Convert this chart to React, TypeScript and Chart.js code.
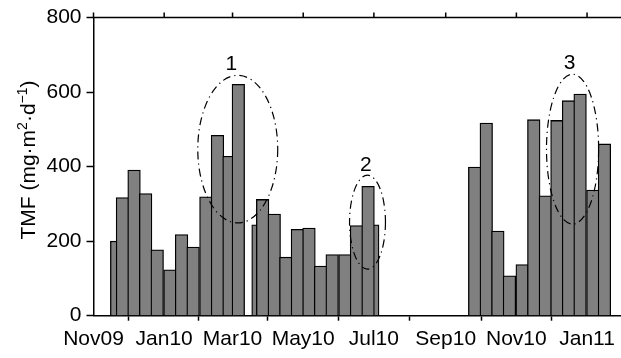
import React, { useEffect, useRef } from "react";
import { Chart, registerables } from "chart.js";

Chart.register(...registerables);

// ---- data ----
const mainDates = [
  "2009-11-26", "2009-12-06", "2009-12-16", "2009-12-26", "2010-01-06", "2010-01-16",
  "2010-01-26", "2010-02-06", "2010-02-16", "2010-02-26", "2010-03-06",
  "2010-03-27", "2010-04-06", "2010-04-16", "2010-04-26", "2010-05-06", "2010-05-16",
  "2010-05-26", "2010-06-06", "2010-06-16", "2010-06-26",
  "2010-09-26", "2010-10-06", "2010-10-16", "2010-10-26", "2010-11-06", "2010-11-16",
  "2010-11-26", "2010-12-06", "2010-12-16", "2010-12-26", "2011-01-06", "2011-01-16",
];
const mainValues = [
  317, 391, 328, 177, 123, 218, 184, 319, 484, 428, 621,
  312, 273, 157, 232, 235, 133, 164, 164, 242, 347,
  399, 517, 227, 107, 137, 526, 322, 524, 577, 595, 337, 461,
];
const backDates = ["2009-11-21", "2010-03-23", "2010-06-30"];
const backValues = [200, 244, 244];

const xTickDates = [
  "2009-11-01", "2010-01-01", "2010-03-01", "2010-05-01",
  "2010-07-01", "2010-09-01", "2010-11-01", "2011-01-01",
];
const xTickLabels = ["Nov09", "Jan10", "Mar10", "May10", "Jul10", "Sep10", "Nov10", "Jan11"];
const yTickValues = [0, 200, 400, 600, 800];

const ellipseNames = ["1", "2", "3"];
const ellipseFrom = ["2010-01-30", "2010-06-10", "2010-11-27"];
const ellipseTo = ["2010-04-09", "2010-07-11", "2011-01-11"];
const ellipseLow = [249, 125, 246];
const ellipseHigh = [645, 377, 648];
const ellipseLabelDates = ["2010-02-28", "2010-06-24", "2010-12-17"];
const ellipseLabelValues = [676, 403, 678];

const ORIGIN = Date.UTC(2009, 10, 1);
const dayOf = (s: string) => (Date.parse(s + "T00:00:00Z") - ORIGIN) / 86400000;

const FONT = "'Liberation Sans', Arial, sans-serif";

const annotationPlugin = {
  id: "annot",
  afterDatasetsDraw(chart: any) {
    const { ctx, scales } = chart;
    const x = scales.x;
    const y = scales.y;
    ctx.save();
    ctx.strokeStyle = "#000";
    ctx.lineWidth = 1.2;
    ctx.setLineDash([8, 4, 1.2, 4]);
    for (let i = 0; i < ellipseNames.length; i++) {
      const x0 = x.getPixelForValue(dayOf(ellipseFrom[i]));
      const x1 = x.getPixelForValue(dayOf(ellipseTo[i]));
      const y0 = y.getPixelForValue(ellipseHigh[i]);
      const y1 = y.getPixelForValue(ellipseLow[i]);
      ctx.beginPath();
      ctx.ellipse((x0 + x1) / 2, (y0 + y1) / 2, (x1 - x0) / 2, (y1 - y0) / 2, 0, 0, Math.PI * 2);
      ctx.stroke();
    }
    ctx.setLineDash([]);
    ctx.fillStyle = "#000";
    ctx.font = "21px " + FONT;
    ctx.textAlign = "center";
    ctx.textBaseline = "middle";
    for (let i = 0; i < ellipseNames.length; i++) {
      ctx.fillText(
        ellipseNames[i],
        x.getPixelForValue(dayOf(ellipseLabelDates[i])),
        y.getPixelForValue(ellipseLabelValues[i])
      );
    }
    ctx.restore();
  },
  afterDraw(chart: any) {
    const { ctx, chartArea, scales } = chart;
    ctx.save();
    // top frame line with outward ticks
    ctx.strokeStyle = "#000";
    ctx.lineWidth = 1.5;
    ctx.beginPath();
    ctx.moveTo(chartArea.left, chartArea.top);
    ctx.lineTo(chartArea.right, chartArea.top);
    for (const d of xTickDates) {
      const px = scales.x.getPixelForValue(dayOf(d));
      ctx.moveTo(px, chartArea.top);
      ctx.lineTo(px, chartArea.top - 5);
    }
    ctx.stroke();

    // y-axis title with superscripts
    const segs = [
      { t: "TMF (mg\u00B7m", sup: false },
      { t: "2", sup: true },
      { t: "\u00B7d", sup: false },
      { t: "\u22121", sup: true },
      { t: ")", sup: false },
    ];
    const big = "21px " + FONT;
    const small = "14px " + FONT;
    let total = 0;
    for (const s of segs) {
      ctx.font = s.sup ? small : big;
      total += ctx.measureText(s.t).width;
    }
    ctx.translate(34.5, 160);
    ctx.rotate(-Math.PI / 2);
    ctx.fillStyle = "#000";
    ctx.textAlign = "left";
    ctx.textBaseline = "alphabetic";
    let cx = -total / 2;
    for (const s of segs) {
      ctx.font = s.sup ? small : big;
      ctx.fillText(s.t, cx, s.sup ? -8 : 0);
      cx += ctx.measureText(s.t).width;
    }
    ctx.restore();
  },
};

export default function App() {
  const ref = useRef<HTMLCanvasElement | null>(null);

  useEffect(() => {
    if (!ref.current) return;
    const tickDays = xTickDates.map(dayOf);
    const barStyle = {
      backgroundColor: "#808080",
      borderColor: "#000",
      borderWidth: 1.3,
      barThickness: 12.6,
      grouped: false,
      borderSkipped: "start" as const,
    };
    const chart = new Chart(ref.current, {
      type: "bar",
      data: {
        datasets: [
          {
            label: "TMF",
            data: mainDates.map((d, i) => ({ x: dayOf(d), y: mainValues[i] })),
            order: 1,
            ...barStyle,
          },
          {
            label: "TMF (behind)",
            data: backDates.map((d, i) => ({ x: dayOf(d), y: backValues[i] })),
            order: 2,
            ...barStyle,
          },
        ],
      } as any,
      options: {
        animation: false,
        responsive: false,
        layout: { padding: { top: 13.3, left: 0, right: 0, bottom: 0 } },
        plugins: { legend: { display: false }, tooltip: { enabled: false }, title: { display: false } },
        scales: {
          x: {
            type: "linear",
            offset: false,
            min: 0,
            max: 455.3,
            afterFit: (s: any) => {
              s.height = 42.3;
            },
            afterBuildTicks: (s: any) => {
              s.ticks = tickDays.map((v) => ({ value: v }));
            },
            ticks: {
              autoSkip: false,
              maxRotation: 0,
              color: "#000",
              padding: 6,
              font: { family: FONT, size: 21 },
              callback: (_v: any, i: number) => xTickLabels[i],
            },
            grid: { drawOnChartArea: false, tickLength: 5, tickColor: "#000", tickWidth: 1.5 },
            border: { display: true, color: "#000", width: 1.5 },
          },
          y: {
            min: 0,
            max: 800,
            afterFit: (s: any) => {
              s.width = 93.5;
            },
            afterBuildTicks: (s: any) => {
              s.ticks = yTickValues.map((v) => ({ value: v }));
            },
            ticks: {
              color: "#000",
              padding: 5,
              font: { family: FONT, size: 21 },
            },
            grid: { drawOnChartArea: false, tickLength: 7, tickColor: "#000", tickWidth: 1.5 },
            border: { display: true, color: "#000", width: 1.5 },
          },
        },
      } as any,
      plugins: [annotationPlugin],
    });
    return () => chart.destroy();
  }, []);

  return (
    <canvas
      ref={ref}
      width={621}
      height={358}
      style={{ position: "fixed", left: 0, top: 0, width: 621, height: 358, background: "#fff" }}
    />
  );
}
